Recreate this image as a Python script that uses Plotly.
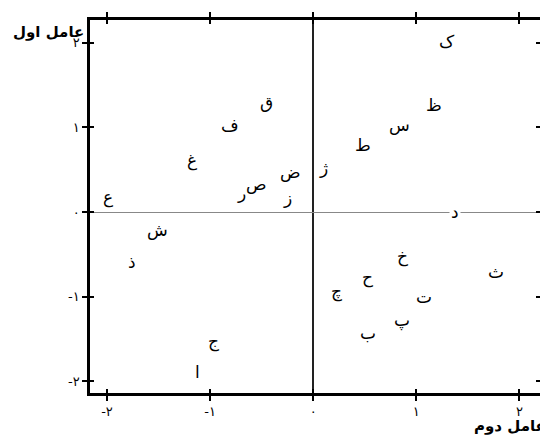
import plotly.graph_objects as go

# factor scores, one Persian letter per point
letters=['ک','ظ','س','ط','ژ','ض','ز','د','ق','ف','غ','ص','ر','ع',
         'ش','ذ','ج','ا','خ','ح','چ','ت','پ','ب','ث']
factor2=[1.30,1.17,0.84,0.48,0.10,-0.22,-0.25,1.38,-0.45,-0.81,-1.18,-0.55,-0.70,-1.99,
         -1.51,-1.76,-0.97,-1.12,0.87,0.53,0.23,1.07,0.86,0.53,1.77]
factor1=[2.01,1.26,1.03,0.79,0.52,0.47,0.17,0.00,1.30,1.03,0.61,0.33,0.22,0.17,
         -0.21,-0.59,-1.53,-1.89,-0.53,-0.78,-0.94,-1.00,-1.28,-1.43,-0.71]
tickvals=[-2,-1,0,1,2]
ticktext=['-۲','-۱','۰','۱','۲']

font_fa='DejaVu Sans'

fig=go.Figure()
fig.add_trace(go.Scatter(x=factor2,y=factor1,mode='markers',
                         marker={'size':1,'opacity':0},
                         hoverinfo='skip',showlegend=False))
for t,x,y in zip(letters,factor2,factor1):
    fig.add_annotation(x=x,y=y,text=t,showarrow=False,
                       font={'family':font_fa,'size':17,'color':'black'},
                       bgcolor='white' if abs(y)<0.05 else 'rgba(0,0,0,0)',
                       borderpad=1)

axis_common={'tickvals':tickvals,'ticktext':ticktext,'automargin':False,
             'showgrid':False,'ticks':'outside','ticklen':5,'tickwidth':1.5,
             'tickcolor':'black','showline':True,'linewidth':2.5,'linecolor':'black',
             'mirror':'ticks','tickfont':{'family':font_fa,'size':13,'color':'black'}}
inner_ticks={'tickvals':tickvals,'showticklabels':False,'automargin':False,
             'ticks':'inside','ticklen':4,'tickwidth':1.5,'tickcolor':'black',
             'showgrid':False,'zeroline':False,'mirror':'ticks','showline':False}

# page body adds 8px, so the figure is sized to the visible area
fig.update_layout(
    width=540,height=429,
    margin={'l':82,'r':8,'t':12,'b':44},
    plot_bgcolor='white',paper_bgcolor='white',
    showlegend=False,
    xaxis={**axis_common,'range':[-2.165,2.2],'zeroline':True,
           'zerolinecolor':'#222222','zerolinewidth':1.5},
    yaxis={**axis_common,'range':[-2.14,2.27],'zeroline':True,
           'zerolinecolor':'#888888','zerolinewidth':1},
    xaxis2={**inner_ticks,'overlaying':'x','matches':'x'},
    yaxis2={**inner_ticks,'overlaying':'y','matches':'y'},
)
fig.add_trace(go.Scatter(x=[None],y=[None],xaxis='x2',yaxis='y2',showlegend=False,hoverinfo='skip'))

fig.add_annotation(xref='paper',yref='paper',x=0,y=0.967,xanchor='right',yanchor='middle',
                   xshift=-4,text='<b>عامل اول</b>',showarrow=False,
                   font={'family':font_fa,'size':15,'color':'black'})
fig.add_annotation(xref='paper',yref='paper',x=1,y=0,xanchor='right',yanchor='top',
                   xshift=8,yshift=-22,text='<b>عامل دوم</b>',showarrow=False,
                   font={'family':font_fa,'size':15,'color':'black'})

fig.write_html('out.html')
